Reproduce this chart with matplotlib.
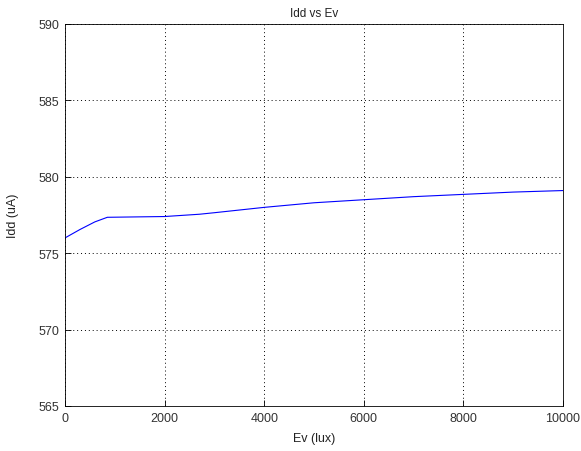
import numpy as np
import matplotlib.pyplot as plt

plt.rcParams['font.family'] = ['Liberation Sans', 'DejaVu Sans']

# supply current vs illuminance
ev = [0, 300, 600, 850, 2000, 2700, 3000, 4000, 5000, 6000, 7000, 8000, 9000, 10000]
idd = [576.0, 576.55, 577.05, 577.35, 577.4, 577.55, 577.65, 578.0, 578.3, 578.5, 578.7, 578.85, 579.0, 579.1]

fig = plt.figure(figsize=(5.81, 4.52), dpi=100)
ax = fig.add_axes([65 / 581, 45 / 452, 498 / 581, 382 / 452])

ax.plot(ev, idd, color='#0000ff', linewidth=0.8)

ax.set_xlim(0, 10000)
ax.set_ylim(565, 590)
ax.set_xticks(np.arange(0, 10001, 2000))
ax.set_yticks(np.arange(565, 591, 5))
ax.grid(True, color='black', linestyle=(0, (1, 3)), linewidth=0.7)
ax.tick_params(direction='in', labelsize=9, length=4, width=0.6,
               labelcolor='#333333', pad=4)
for s in ax.spines.values():
    s.set_linewidth(0.6)

ax.set_title('Idd vs Ev', fontsize=8.5, pad=6, color='#222222')
ax.set_xlabel('Ev (lux)', fontsize=9, labelpad=6, color='#222222')
ax.set_ylabel('Idd (uA)', fontsize=9, labelpad=14, color='#222222')

fig.savefig('out.png', dpi=100)
